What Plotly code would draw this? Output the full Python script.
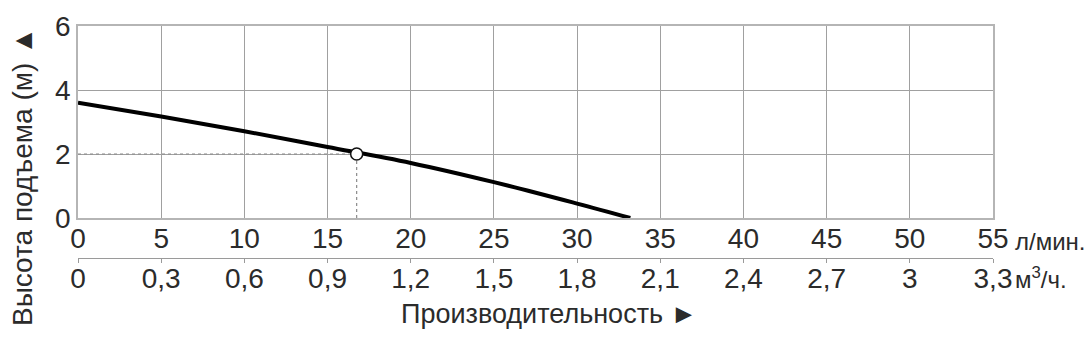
import plotly.graph_objects as go

# --- data ---
flow_lpm = [0, 5, 10, 15, 20, 25, 30, 33.2]
head_m = [3.60, 3.17, 2.71, 2.22, 1.72, 1.12, 0.45, 0.0]

op_flow = 16.75
op_head = 2.0

x_ticks_lpm = [0, 5, 10, 15, 20, 25, 30, 35, 40, 45, 50, 55]
x_ticks_m3h = [0, 0.3, 0.6, 0.9, 1.2, 1.5, 1.8, 2.1, 2.4, 2.7, 3.0, 3.3]
x_ticktext_m3h = ["0", "0,3", "0,6", "0,9", "1,2", "1,5", "1,8", "2,1", "2,4", "2,7", "3", "3,3"]
y_ticks = [0, 2, 4, 6]

y_title = "Высота подъема (м) ▲"
x_title = "Производительность ►"
unit_lpm = "л/мин."
unit_m3h = "м<sup>3</sup>/ч."

FONT = "Liberation Sans Narrow, Arial Narrow, Liberation Sans, Arial, sans-serif"
TXT = "#2b2b2b"
W, H = 1087, 339
ML, MR, MT, MB = 78, 94, 26, 81
PW = W - ML - MR
PH = H - MT - MB
plot_bottom_px = 218
ydom0 = (MT + PH - plot_bottom_px) / PH


def px_x(px):
    return (px - ML) / PW


def px_y(py):
    return (MT + PH - py) / PH


fig = go.Figure()

# guide lines to operating point
fig.add_trace(go.Scatter(x=[0, op_flow], y=[op_head, op_head], mode="lines",
                         line=dict(color="#8a8a8a", width=1.2, dash="dot"),
                         hoverinfo="skip", showlegend=False))
fig.add_trace(go.Scatter(x=[op_flow, op_flow], y=[0, op_head], mode="lines",
                         line=dict(color="#8a8a8a", width=1.2, dash="dot"),
                         hoverinfo="skip", showlegend=False))

# pump curve
fig.add_trace(go.Scatter(x=flow_lpm, y=head_m, mode="lines",
                         line=dict(color="#000000", width=4, shape="spline", smoothing=1.0),
                         showlegend=False))

# operating point
fig.add_trace(go.Scatter(x=[op_flow], y=[op_head], mode="markers",
                         marker=dict(size=12, color="white", line=dict(color="#111", width=1.5)),
                         showlegend=False))

# invisible trace to carry secondary x axis
fig.add_trace(go.Scatter(x=[x_ticks_m3h[0], x_ticks_m3h[-1]], y=[None, None], xaxis="x2",
                         mode="lines", showlegend=False, hoverinfo="skip"))

fig.update_layout(
    width=W, height=H,
    margin=dict(l=ML, r=MR, t=MT, b=MB, pad=0),
    paper_bgcolor="white", plot_bgcolor="white",
    font=dict(family=FONT, color=TXT, size=28),
    showlegend=False,
    xaxis=dict(range=[0, 55], tickvals=x_ticks_lpm, showgrid=True, gridcolor="#a0a0a0", gridwidth=1,
               showline=True, mirror=True, linecolor="#b5b5b5", linewidth=1.5, ticks="",
               ticklabelstandoff=-5,
               zeroline=False, tickfont=dict(size=28, family=FONT, color=TXT), anchor="y"),
    yaxis=dict(range=[0, 6], tickvals=y_ticks, domain=[ydom0, 1], showgrid=True, gridcolor="#a0a0a0",
               gridwidth=1, showline=True, mirror=True, linecolor="#b5b5b5", linewidth=1.5, ticks="",
               zeroline=False, tickfont=dict(size=28, family=FONT, color=TXT)),
    xaxis2=dict(range=[0, 3.3], tickvals=x_ticks_m3h, ticktext=x_ticktext_m3h, overlaying="x",
                anchor="free", position=0, side="bottom", showgrid=False, zeroline=False,
                showline=True, linecolor="#9a9a9a", linewidth=1.2, ticks="outside", ticklen=4,
                ticklabelstandoff=-9,
                tickcolor="#9a9a9a", tickfont=dict(size=28, family=FONT, color=TXT)),
)

fig.add_annotation(text=y_title, xref="paper", yref="paper", x=px_x(22), y=px_y(177),
                   textangle=-90, showarrow=False, xanchor="center", yanchor="middle",
                   font=dict(size=28, family=FONT, color=TXT))
fig.add_annotation(text=x_title, xref="paper", yref="paper", x=px_x(549), y=px_y(314),
                   showarrow=False, xanchor="center", yanchor="middle",
                   font=dict(size=27, family=FONT, color=TXT))
fig.add_annotation(text=unit_lpm, xref="paper", yref="paper", x=px_x(1013), y=px_y(241),
                   showarrow=False, xanchor="left", yanchor="middle",
                   font=dict(size=24, family=FONT, color=TXT))
fig.add_annotation(text=unit_m3h, xref="paper", yref="paper", x=px_x(1013), y=px_y(278),
                   showarrow=False, xanchor="left", yanchor="middle",
                   font=dict(size=24, family=FONT, color=TXT))

fig.write_html("out.html")
